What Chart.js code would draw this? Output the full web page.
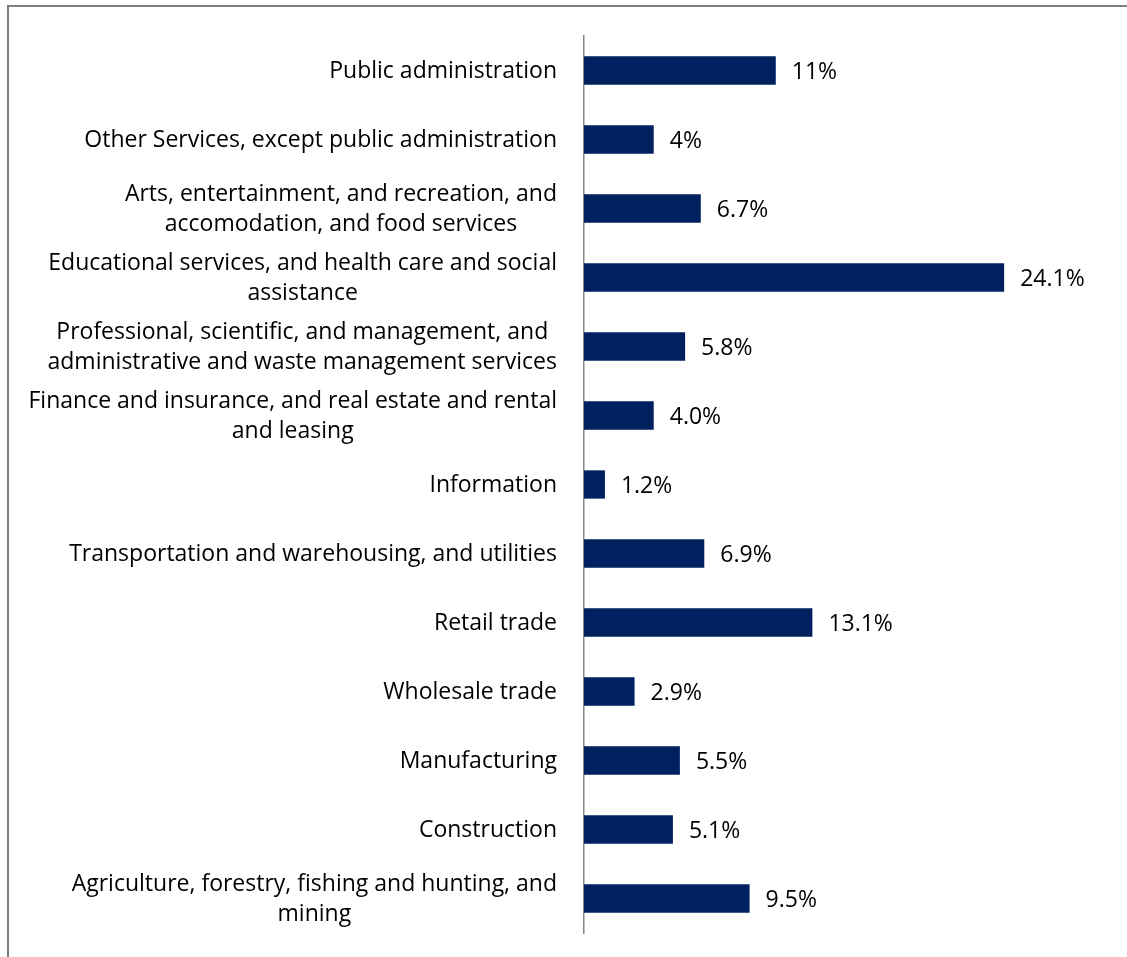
<!DOCTYPE html>
<html>
<head>
<meta charset="utf-8">
<script src="https://cdn.jsdelivr.net/npm/chart.js@4.4.1/dist/chart.umd.min.js"></script>
<style>
  html, body { margin: 0; padding: 0; background: #fff; overflow: hidden; }
  #frame {
    position: absolute; left: 7px; top: 5px; width: 1200px; height: 1000px;
    border: 2px solid #808080; box-sizing: border-box;
  }
  #wrap { position: absolute; left: 0; top: 0; width: 1127px; height: 957px; }
</style>
</head>
<body>
<div id="frame"></div>
<div id="wrap"><canvas id="chart"></canvas></div>
<script>
// industries, top of the chart first
const industries = [
  'Public administration',
  'Other Services, except public administration',
  ['Arts, entertainment, and recreation, and', 'accomodation, and food services'],
  ['Educational services, and health care and social', 'assistance'],
  ['Professional, scientific, and management, and', 'administrative and waste management services'],
  ['Finance and insurance, and real estate and rental', 'and leasing'],
  'Information',
  'Transportation and warehousing, and utilities',
  'Retail trade',
  'Wholesale trade',
  'Manufacturing',
  'Construction',
  ['Agriculture, forestry, fishing and hunting, and', 'mining'],
];
const shares = [11, 4, 6.7, 24.1, 5.8, 4.0, 1.2, 6.9, 13.1, 2.9, 5.5, 5.1, 9.5];
// decimals shown in each value label
const shareDecimals = [0, 0, 1, 1, 1, 1, 1, 1, 1, 1, 1, 1, 1];

const FONT = '23px "Open Sans"';
const LINE_H = 30;
const LABEL_RIGHT = 557;

const categoryLabels = {
  id: 'categoryLabels',
  afterDraw(chart) {
    const ctx = chart.ctx;
    const yScale = chart.scales.y;
    ctx.save();
    ctx.font = FONT;
    ctx.fillStyle = '#000';
    ctx.textBaseline = 'middle';
    ctx.textAlign = 'center';
    industries.forEach((lab, i) => {
      const lines = Array.isArray(lab) ? lab : [lab];
      const w = Math.max(...lines.map((l) => ctx.measureText(l).width));
      const cx = LABEL_RIGHT - w / 2;
      const y0 = yScale.getPixelForTick(i) + 1 - (lines.length - 1) * LINE_H / 2;
      lines.forEach((l, k) => ctx.fillText(l, cx, y0 + k * LINE_H));
    });
    ctx.restore();
  },
};

const valueLabels = {
  id: 'valueLabels',
  afterDatasetsDraw(chart) {
    const ctx = chart.ctx;
    const meta = chart.getDatasetMeta(0);
    ctx.save();
    ctx.font = FONT;
    ctx.fillStyle = '#000';
    ctx.textBaseline = 'middle';
    ctx.textAlign = 'left';
    meta.data.forEach((bar, i) => {
      ctx.fillText(shares[i].toFixed(shareDecimals[i]) + '%', bar.x + 16, bar.y + 2);
    });
    ctx.restore();
  },
};

new Chart(document.getElementById('chart'), {
  type: 'bar',
  data: {
    labels: industries,
    datasets: [{
      data: shares,
      backgroundColor: '#002060',
      borderWidth: 0,
      barPercentage: 0.41,
      categoryPercentage: 1,
    }],
  },
  options: {
    indexAxis: 'y',
    responsive: true,
    maintainAspectRatio: false,
    animation: false,
    layout: { padding: { top: 36, bottom: 24, left: 0, right: 20 } },
    plugins: {
      legend: { display: false },
      tooltip: { enabled: false },
    },
    scales: {
      x: { display: false, min: 0, max: 30 },
      y: {
        afterFit(scale) { scale.width = 584; },
        ticks: { display: false },
        grid: { display: true, drawOnChartArea: false, drawTicks: false },
        border: { display: true, color: '#868686', width: 1.5 },
      },
    },
  },
  plugins: [categoryLabels, valueLabels],
});
</script>
</body>
</html>
